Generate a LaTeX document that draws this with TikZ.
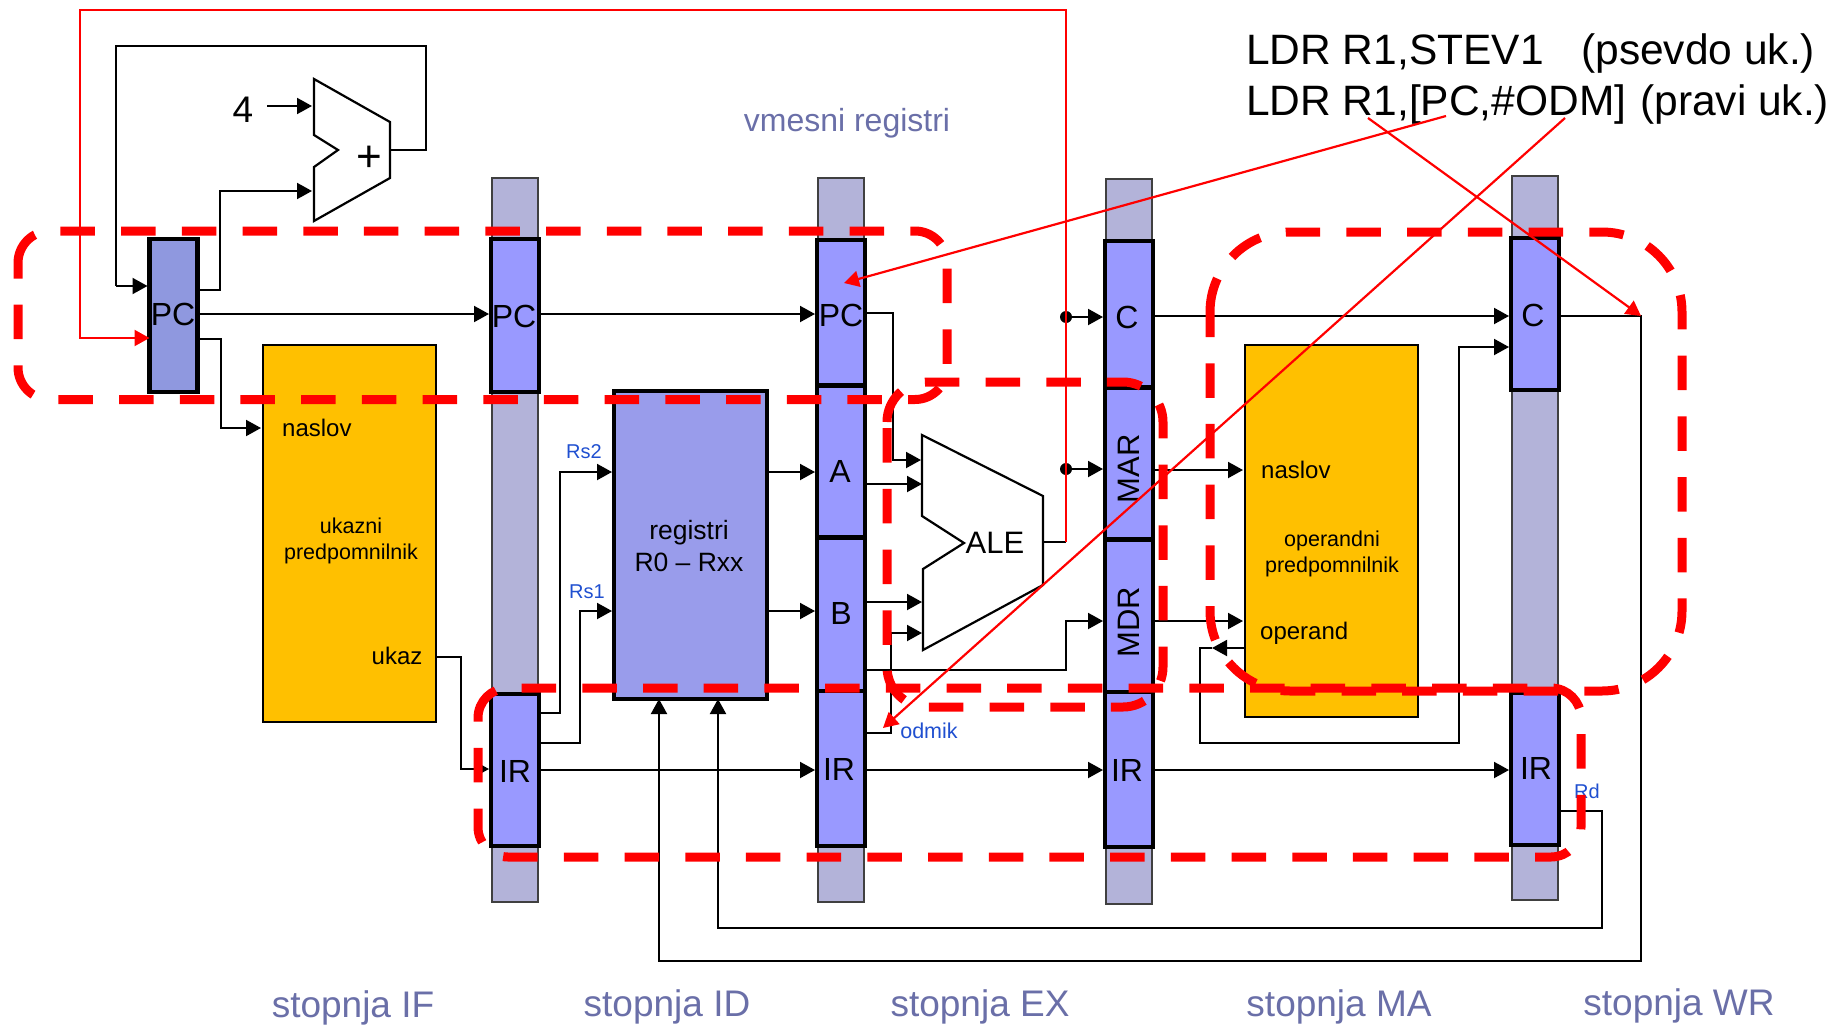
\documentclass[tikz,border=0pt]{standalone}
\usepackage{fontspec}
\setmainfont{Liberation Sans}
\usetikzlibrary{arrows.meta}
\definecolor{regblue}{HTML}{9999FF}
\definecolor{filerblue}{HTML}{999CEB}
\definecolor{pcblue}{HTML}{8F98DF}
\definecolor{barblue}{HTML}{B3B3D9}
\definecolor{cacheyellow}{HTML}{FFC000}
\definecolor{stagetext}{HTML}{6A6FA8}
\definecolor{portblue}{HTML}{1F4FD0}
\tikzset{
  barbox/.style={draw=black!75, line width=1.5pt, fill=barblue, inner sep=0pt, outer sep=0pt, minimum width=46pt},
  regbox/.style={draw=black, line width=4.5pt, fill=regblue, inner sep=0pt, outer sep=0pt, minimum width=48pt},
  cachebox/.style={draw=black, line width=1.8pt, fill=cacheyellow, inner sep=0pt, outer sep=0pt},
  unitbox/.style={draw=black, line width=2.2pt, fill=white, line join=miter},
  reglabel/.style={inner sep=0pt, font=\fontsize{32}{38}\selectfont},
  celltext/.style={inner sep=0pt, font=\fontsize{24}{29}\selectfont},
  smalltext/.style={inner sep=0pt, align=center, font=\fontsize{21.5}{26}\selectfont},
  portlabel/.style={inner sep=0pt, text=portblue, font=\fontsize{20}{24}\selectfont},
  stagelabel/.style={inner sep=0pt, text=stagetext, font=\fontsize{37}{44}\selectfont},
  instrtext/.style={inner sep=0pt, anchor=base west, font=\fontsize{42.5}{50}\selectfont},
  wire/.style={draw=black, line width=2pt},
  arrowwire/.style={wire, -{Triangle[length=15pt,width=16pt]}, shorten >=2pt},
  redwire/.style={draw=red, line width=2.2pt},
  redarrow/.style={redwire, -{Triangle[length=15pt,width=16pt]}},
  regionline/.style={draw=red, line width=9pt, dash pattern=on 34.5pt off 26.2pt, rounded corners=#1},
  wiredot/.style={circle, fill=black, inner sep=0pt, minimum size=12pt},
}
\begin{document}
\begin{tikzpicture}[x=1pt,y=-1pt]
  \useasboundingbox (0,0) rectangle (1833,1025);

  % Pipeline bars
  \node[barbox, minimum height=724pt] (barIF) at (515,540) {};
  \node[barbox, minimum height=724pt] (barID) at (841,540) {};
  \node[barbox, minimum height=725pt] (barEX) at (1129,541.5) {};
  \node[barbox, minimum height=724pt] (barMA) at (1535,538) {};

  % Caches
  \node[cachebox, minimum width=173pt, minimum height=377pt] (cacheI) at (349.5,533.5) {};
  \node[cachebox, minimum width=173pt, minimum height=372pt] (cacheD) at (1331.5,531) {};

  % Registers
  \node[regbox, fill=pcblue, minimum height=153pt] (pcIF) at (173.5,315.5) {};
  \node[regbox, minimum height=153pt] (pcID) at (515,315.5) {};
  \node[regbox, minimum height=152pt] (irID) at (515,770) {};
  \node[regbox, minimum height=149pt] (pcEX) at (841,314.5) {};
  \node[regbox, minimum height=155pt] (regA) at (841,463) {};
  \node[regbox, minimum height=157pt] (regB) at (841,616) {};
  \node[regbox, minimum height=155pt] (irEX) at (841,768.5) {};
  \node[regbox, minimum height=150pt] (regC) at (1129,316) {};
  \node[regbox, minimum height=155pt] (regMAR) at (1129,465) {};
  \node[regbox, minimum height=156pt] (regMDR) at (1129,617.5) {};
  \node[regbox, minimum height=155pt] (irMA) at (1129,769.5) {};
  \node[regbox, minimum height=152pt] (regCw) at (1535,314) {};
  \node[regbox, minimum height=152pt] (irWR) at (1535,769) {};
  \node[regbox, fill=filerblue, minimum width=153pt, minimum height=308pt] (regfile) at (690.5,545) {};

  % Adder and ALE
  \draw[unitbox] (314,79) -- (390,122) -- (390,178) -- (314,221) -- (314,167) -- (338,150) -- (314,135) -- cycle;
  \draw[unitbox] (922,435) -- (1043,496) -- (1043,585) -- (923,650) -- (923,569) -- (964,543) -- (922,516) -- cycle;
  \coordinate (addFour) at (314,106);
  \coordinate (addPC) at (314,191);
  \coordinate (addOut) at (390,150);
  \coordinate (aleP) at (921,460);
  \coordinate (aleA) at (922,484);
  \coordinate (aleB) at (922,602);
  \coordinate (aleI) at (922,633);
  \coordinate (aleOut) at (1043,542);

  % Register labels
  \node[reglabel] (txtPCa) at (173,314) {PC};
  \node[reglabel] (txtPCb) at (514,316) {PC};
  \node[reglabel] (txtIRa) at (515,771) {IR};
  \node[reglabel] (txtPCc) at (841,315) {PC};
  \node[reglabel] (txtA) at (840,471) {A};
  \node[reglabel] (txtB) at (841,613) {B};
  \node[reglabel] (txtIRb) at (839,769) {IR};
  \node[reglabel] (txtC) at (1127,317) {C};
  \node[reglabel, rotate=90, font=\fontsize{31}{36}\selectfont] (txtMAR) at (1129,469) {MAR};
  \node[reglabel, rotate=90, font=\fontsize{31}{36}\selectfont] (txtMDR) at (1129,622) {MDR};
  \node[reglabel] (txtIRc) at (1127,770) {IR};
  \node[reglabel] (txtCw) at (1533,315) {C};
  \node[reglabel] (txtIRd) at (1536,768) {IR};
  \node[reglabel, font=\fontsize{37}{44}\selectfont] (four) at (243,110) {4};
  \node[reglabel, font=\fontsize{44}{44}\selectfont] (plus) at (369,159) {+};
  \node[reglabel, font=\fontsize{31}{36}\selectfont] (txtALE) at (995,543) {ALE};
  \node[celltext, align=center, font=\fontsize{26.5}{32}\selectfont] (txtFile) at (689,546) {registri\\R0 – Rxx};

  % Cache labels
  \node[celltext, anchor=west] (addrI) at (282,428) {naslov};
  \node[smalltext] (nameI) at (351,541) {ukazni\\predpomnilnik};
  \node[celltext] (dataI) at (397,656) {ukaz};
  \node[celltext, anchor=west] (addrD) at (1261,470) {naslov};
  \node[smalltext] (nameD) at (1332,554) {operandni\\predpomnilnik};
  \node[celltext, anchor=west] (dataD) at (1260,633) {operand};

  % Port labels
  \node[portlabel] (lblRsb) at (584,452) {Rs2};
  \node[portlabel] (lblRsa) at (587,592) {Rs1};
  \node[portlabel, font=\fontsize{21.5}{26}\selectfont] (lblOdm) at (929,731) {odmik};
  \node[portlabel] (lblRd) at (1587,791) {Rd};

  % Titles
  \node[stagelabel, font=\fontsize{32}{38}\selectfont] (title) at (847,123) {vmesni registri};
  \node[stagelabel] (stIF) at (353,1008) {stopnja IF};
  \node[stagelabel] (stID) at (667,1007) {stopnja ID};
  \node[stagelabel] (stEX) at (980,1007) {stopnja EX};
  \node[stagelabel] (stMA) at (1339,1007) {stopnja MA};
  \node[stagelabel] (stWR) at (1679,1006) {stopnja WR};

  % Instruction text
  \node[instrtext] (instrA) at (1246,64) {LDR R1,STEV1};
  \node[instrtext] (noteA) at (1581,64) {(psevdo uk.)};
  \node[instrtext] (instrB) at (1246,115) {LDR R1,[PC,\#ODM]};
  \node[instrtext] (noteB) at (1640,115) {(pravi uk.)};

  % Stage IF
  \draw[wire] (addOut) -- (425.5,150) -- (425.5,46) -- (116,46) -- (116,286);
  \draw[arrowwire] (116,286) -- (pcIF.west |- 0,286);
  \draw[arrowwire] ([xshift=14pt]four.east |- addFour) -- (addFour);
  \draw[arrowwire] (pcIF.east |- 0,290) -| (220,191) -- (addPC);
  \draw[arrowwire] (pcIF.east |- 0,339) -| (221,428) -- (cacheI.west |- 0,428);
  \draw[arrowwire] (pcIF.east |- 0,314) -- (pcID.west |- 0,314);
  \draw[arrowwire] (cacheI.east |- 0,657) -| (461,769) -- (irID.west |- 0,769);

  % Stage ID
  \draw[arrowwire] (irID.east |- 0,713) -| (560,472) -- (regfile.west |- 0,472);
  \draw[arrowwire] (irID.east |- 0,743) -| (580,611) -- (regfile.west |- 0,611);
  \draw[arrowwire] (regfile.east |- 0,472) -- (regA.west |- 0,472);
  \draw[arrowwire] (regfile.east |- 0,611) -- (regB.west |- 0,611);
  \draw[arrowwire] (pcID.east |- 0,314) -- (pcEX.west |- 0,314);
  \draw[arrowwire] (irID.east |- 0,770) -- (irEX.west |- 0,770);

  % Stage EX
  \draw[arrowwire, shorten >=0pt] (pcEX.east |- 0,313) -| (893,460) -- (aleP);
  \draw[arrowwire, shorten >=0pt] (regA.east |- 0,484) -- (aleA);
  \draw[arrowwire, shorten >=0pt] (regB.east |- 0,602) -- (aleB);
  \draw[arrowwire, shorten >=0pt] (irEX.east |- 0,733) -| (891,633) -- (aleI);
  \draw[arrowwire] (regB.east |- 0,670) -| (1066,621) -- (regMDR.west |- 0,621);
  \draw[arrowwire] (irEX.east |- 0,770) -- (irMA.west |- 0,770);
  \draw[wire] (aleOut) -- (1066,542);
  \node[wiredot] (dotC) at (1066,317) {};
  \node[wiredot] (dotM) at (1066,469) {};
  \draw[arrowwire] (dotC) -- (regC.west |- dotC);
  \draw[arrowwire] (dotM) -- (regMAR.west |- dotM);

  % Stage MA
  \draw[arrowwire] (regC.east |- 0,316) -- (regCw.west |- 0,316);
  \draw[arrowwire] (regMAR.east |- 0,470) -- (cacheD.west |- 0,470);
  \draw[arrowwire] (regMDR.east |- 0,621) -- (cacheD.west |- 0,621);
  \draw[arrowwire, shorten >=0pt] (cacheD.west |- 0,648) -- (1212,648);
  \draw[arrowwire] (1212,648) -- (1200,648) -- (1200,743) -- (1459,743) -- (1459,347) -- (regCw.west |- 0,347);
  \draw[arrowwire] (irMA.east |- 0,770) -- (irWR.west |- 0,770);

  % Stage WR
  \draw[arrowwire, shorten >=0pt] (regCw.east |- 0,316) -- (1641,316) -- (1641,961) -- (659,961) -- (regfile.south -| 659,0);
  \draw[arrowwire, shorten >=0pt] (irWR.east |- 0,811) -- (1602,811) -- (1602,928) -- (718,928) -- (regfile.south -| 718,0);

  % Marked regions
  \draw[regionline=32pt] (18,263) -- (18,231) -- (947,231) -- (947,399.5) -- (18,399.5) -- (18,263);
  \draw[regionline=40pt] (887,422) -- (887,382) -- (1163,382) -- (1163,707) -- (887,707) -- (887,422);
  \draw[regionline=80pt] (1210,312) -- (1210,232) -- (1682,232) -- (1682,691) -- (1210,691) -- (1210,312);
  \draw[regionline=30pt] (478,718) -- (478,688) -- (1581,688) -- (1581,857) -- (478,857) -- (478,718);

  % Red annotation arrows
  \draw[redarrow] (1066,542) -- (1066,10) -- (80,10) -- (80,338) -- (pcIF.west |- 0,338);
  \coordinate (fromPC) at (1446,116);
  \coordinate (fromODM) at (1565,118);
  \coordinate (fromRa) at (1368,118);
  \coordinate (toPC) at (844,283);
  \coordinate (toOdm) at (883,728);
  \coordinate (toRd) at (1641,316);
  \draw[redarrow] (fromPC) -- (toPC);
  \draw[redarrow] (fromODM) -- (toOdm);
  \draw[redarrow] (fromRa) -- (toRd);
\end{tikzpicture}
\end{document}
